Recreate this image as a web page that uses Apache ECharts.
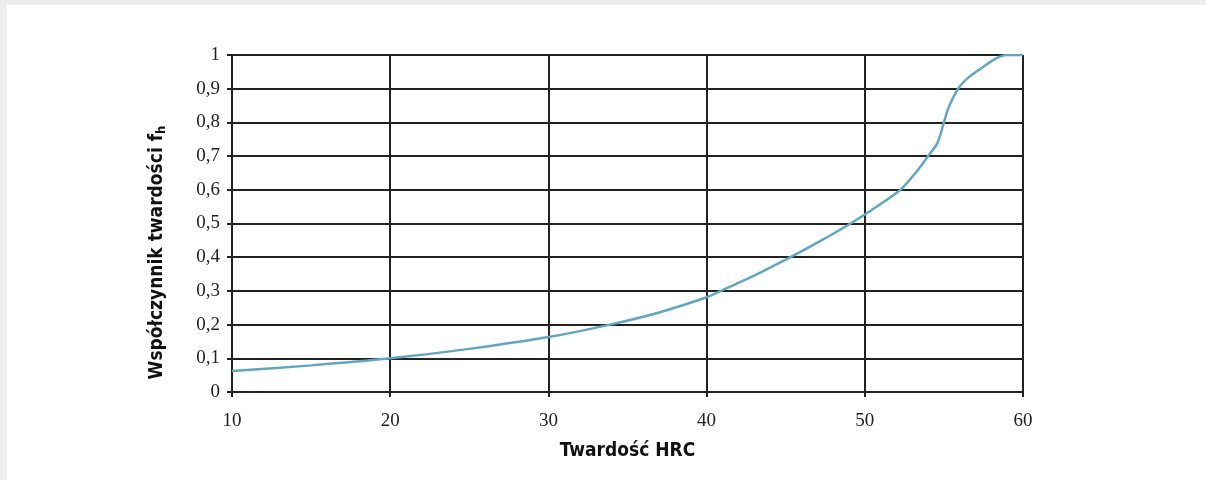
<!DOCTYPE html>
<html>
<head>
<meta charset="utf-8">
<script src="https://cdn.jsdelivr.net/npm/echarts@6/dist/echarts.min.js"></script>
<style>
  html, body { margin: 0; padding: 0; background: #eeeeee; }
  #chart {
    position: absolute; left: 7px; top: 5px;
    width: 1199px; height: 475px; background: #fff;
  }
</style>
</head>
<body>
<div id="chart"></div>
<script>
// twardość HRC -> współczynnik fh
const hrc = [10, 15, 20, 25, 30, 33.9, 37, 40, 40.9, 43, 45.3, 47, 49.1, 51, 52.25, 53.2, 54.0, 54.6, 55.0, 55.3, 55.9, 56.6, 57.5, 58.3, 59.0, 60]
const fh = [0.062, 0.079, 0.1, 0.128, 0.163, 0.2, 0.236, 0.281, 0.3, 0.345, 0.4, 0.443, 0.5, 0.558, 0.6, 0.65, 0.7, 0.74, 0.8, 0.844, 0.9, 0.935, 0.965, 0.99, 1.0, 1.0]

const xTicks = [10, 20, 30, 40, 50, 60]
const yTicks = [0, 0.1, 0.2, 0.3, 0.4, 0.5, 0.6, 0.7, 0.8, 0.9, 1]

const theme = {
  grid: '#222',
  label: '#222',
  title: '#111',
  line: '#62a6c3'
}

const chart = echarts.init(document.getElementById('chart'))

const labelFont = { fontFamily: 'Liberation Serif', fontSize: 19, color: theme.label }
const titleFont = { fontFamily: 'DejaVu Sans Condensed', fontWeight: 'bold', fontSize: 19, color: theme.title }

chart.setOption({
  animation: false,
  grid: { left: 225, right: 183, top: 50, bottom: 88 },
  xAxis: {
    type: 'value',
    min: xTicks[0],
    max: xTicks[xTicks.length - 1],
    interval: 10,
    name: 'Twardość HRC',
    nameLocation: 'middle',
    nameGap: 50,
    nameTextStyle: titleFont,
    axisLine: { show: true, lineStyle: { color: theme.grid, width: 2 } },
    axisTick: { show: true, length: 5, lineStyle: { color: theme.grid, width: 2 } },
    axisLabel: Object.assign({ margin: 20 }, labelFont),
    splitLine: { show: true, lineStyle: { color: theme.grid, width: 2 } }
  },
  yAxis: {
    type: 'value',
    min: yTicks[0],
    max: yTicks[yTicks.length - 1],
    interval: 0.1,
    name: 'Współczynnik twardości f{sub|h}',
    nameLocation: 'middle',
    nameGap: 64,
    nameTextStyle: Object.assign({}, titleFont, {
      padding: [0, 58, 0, 0],
      rich: {
        sub: { fontFamily: 'DejaVu Sans Condensed', fontWeight: 'bold', fontSize: 13, color: theme.title, verticalAlign: 'bottom', padding: [8, 0, 0, 0] }
      }
    }),
    axisLine: { show: true, lineStyle: { color: theme.grid, width: 2 } },
    axisTick: { show: true, length: 5, lineStyle: { color: theme.grid, width: 2 } },
    axisLabel: Object.assign({
      margin: 12,
      formatter: v => String(Math.round(v * 10) / 10).replace('.', ',')
    }, labelFont),
    splitLine: { show: true, lineStyle: { color: theme.grid, width: 2 } }
  },
  series: [{
    type: 'line',
    data: hrc.map((x, i) => [x, fh[i]]),
    smooth: 0.3,
    symbol: 'none',
    lineStyle: { color: theme.line, width: 2.5 },
    z: 5
  }]
})
</script>
</body>
</html>
